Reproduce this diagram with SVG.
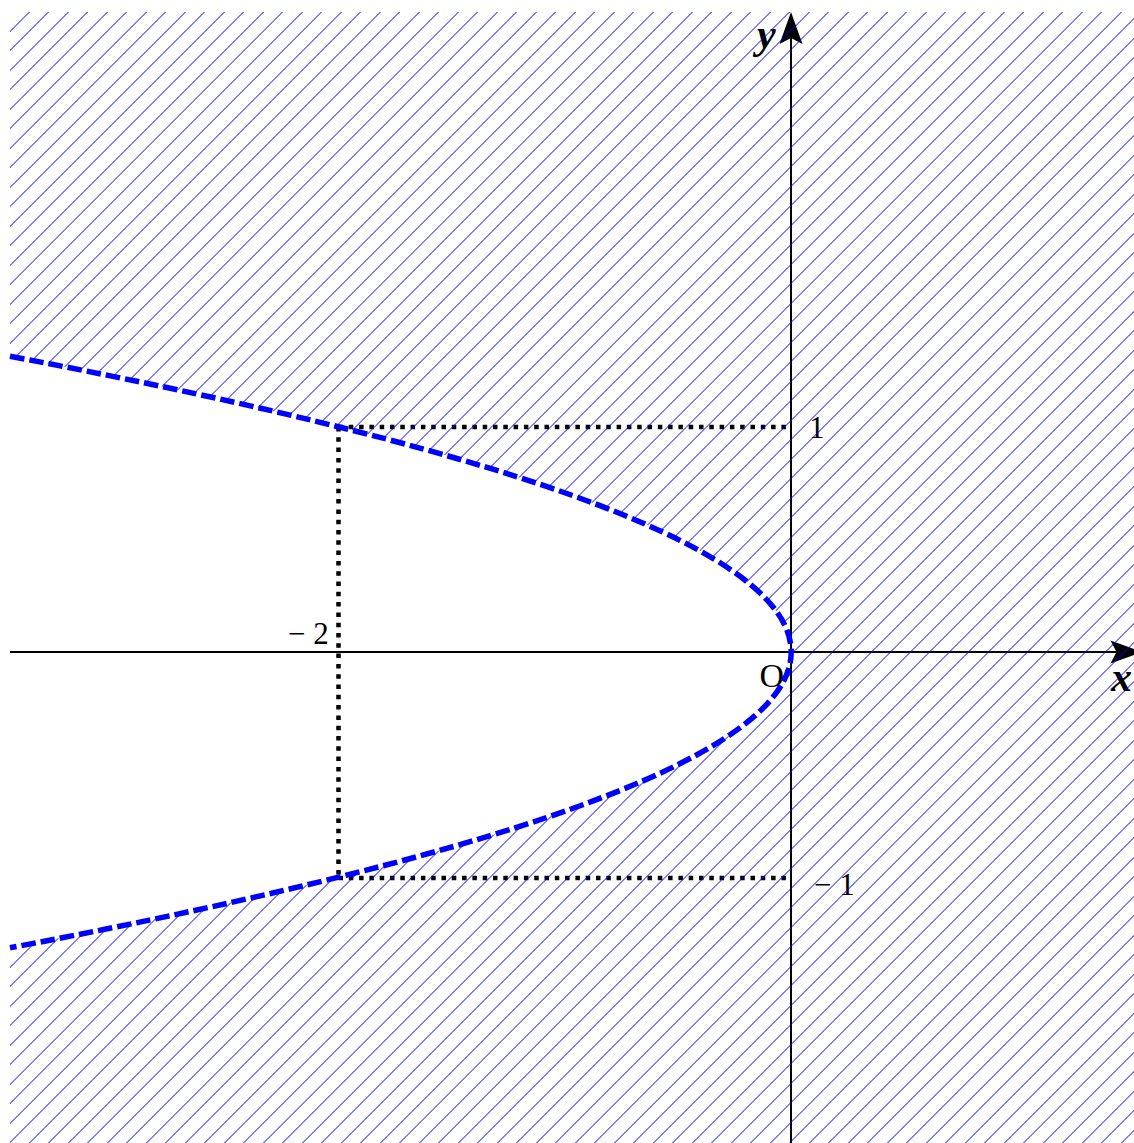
<svg xmlns="http://www.w3.org/2000/svg" width="1134" height="1143" viewBox="0 0 1134 1143">
<style>
.axis{stroke:#000;stroke-width:2;fill:none}
.arrow{fill:#000;stroke:none}
.dot{stroke:#000;stroke-width:4.5;stroke-dasharray:4.5 5.8;fill:none}
.hatch{stroke:#0000ff;stroke-width:1;fill:none}
.curve{stroke:#0000ff;stroke-width:5.5;stroke-dasharray:14.5 5;fill:none}
.num{font-family:"Liberation Serif","Times New Roman",serif;font-size:31px;fill:#000}
.var{font-family:"Liberation Serif","Times New Roman",serif;font-size:42px;font-weight:bold;font-style:italic;fill:#000}
</style>
<defs>
<clipPath id="region">
<path clip-rule="evenodd" d="M10 12H1134V1143H10Z M10 356.2Q1572.4 652 10 947.8Z"/>
</clipPath>
</defs>
<rect width="1134" height="1143" fill="#fff"/>
<g id="axes">
<path class="axis" d="M10 652H1120 M791 1143V30"/>
<path class="arrow" d="M791 12L802.5 44L791 38L779.5 44Z"/>
<path class="arrow" d="M1142 652L1110.5 640.5L1116.5 652L1110.5 663.5Z"/>
</g>
<g id="guides">
<path class="dot" d="M338.5 427H791 M338.5 878H791 M338.5 427V878"/>
</g>
<g id="labels">
<text class="var" x="757" y="48">y</text>
<text class="var" x="1111" y="690.5">x</text>
<text class="num" x="759.5" y="686.5" style="font-size:34px">O</text>
<text class="num" x="809" y="438">1</text>
<text class="num" x="814" y="895">− 1</text>
<text class="num" x="288" y="643.5">− 2</text>
</g>
<g id="hatch" clip-path="url(#region)">
<path class="hatch" d="M-1178.5 1200l1300-1300
m-1280 1300l1300-1300m-1281 1300l1300-1300m-1280 1300l1300-1300m-1281 1300l1300-1300m-1280 1300l1300-1300m-1281 1300l1300-1300
m-1280 1300l1300-1300m-1281 1300l1300-1300m-1280 1300l1300-1300m-1281 1300l1300-1300m-1280 1300l1300-1300m-1281 1300l1300-1300
m-1280 1300l1300-1300m-1281 1300l1300-1300m-1280 1300l1300-1300m-1281 1300l1300-1300m-1280 1300l1300-1300m-1281 1300l1300-1300
m-1280 1300l1300-1300m-1281 1300l1300-1300m-1280 1300l1300-1300m-1281 1300l1300-1300m-1280 1300l1300-1300m-1281 1300l1300-1300
m-1280 1300l1300-1300m-1281 1300l1300-1300m-1280 1300l1300-1300m-1281 1300l1300-1300m-1280 1300l1300-1300m-1281 1300l1300-1300
m-1280 1300l1300-1300m-1281 1300l1300-1300m-1280 1300l1300-1300m-1281 1300l1300-1300m-1280 1300l1300-1300m-1281 1300l1300-1300
m-1280 1300l1300-1300m-1281 1300l1300-1300m-1280 1300l1300-1300m-1281 1300l1300-1300m-1280 1300l1300-1300m-1281 1300l1300-1300
m-1280 1300l1300-1300m-1281 1300l1300-1300m-1280 1300l1300-1300m-1281 1300l1300-1300m-1280 1300l1300-1300m-1281 1300l1300-1300
m-1280 1300l1300-1300m-1281 1300l1300-1300m-1280 1300l1300-1300m-1281 1300l1300-1300m-1280 1300l1300-1300m-1281 1300l1300-1300
m-1280 1300l1300-1300m-1281 1300l1300-1300m-1280 1300l1300-1300m-1281 1300l1300-1300m-1280 1300l1300-1300m-1281 1300l1300-1300
m-1280 1300l1300-1300m-1281 1300l1300-1300m-1280 1300l1300-1300m-1281 1300l1300-1300m-1280 1300l1300-1300m-1281 1300l1300-1300
m-1280 1300l1300-1300m-1281 1300l1300-1300m-1280 1300l1300-1300m-1281 1300l1300-1300m-1280 1300l1300-1300m-1281 1300l1300-1300
m-1280 1300l1300-1300m-1281 1300l1300-1300m-1280 1300l1300-1300m-1281 1300l1300-1300m-1280 1300l1300-1300m-1281 1300l1300-1300
m-1280 1300l1300-1300m-1281 1300l1300-1300m-1280 1300l1300-1300m-1281 1300l1300-1300m-1280 1300l1300-1300m-1281 1300l1300-1300
m-1280 1300l1300-1300m-1281 1300l1300-1300m-1280 1300l1300-1300m-1281 1300l1300-1300m-1280 1300l1300-1300m-1281 1300l1300-1300
m-1280 1300l1300-1300m-1281 1300l1300-1300m-1280 1300l1300-1300m-1281 1300l1300-1300m-1280 1300l1300-1300m-1281 1300l1300-1300
m-1280 1300l1300-1300m-1281 1300l1300-1300m-1280 1300l1300-1300m-1281 1300l1300-1300m-1280 1300l1300-1300m-1281 1300l1300-1300
m-1280 1300l1300-1300m-1281 1300l1300-1300m-1280 1300l1300-1300m-1281 1300l1300-1300m-1280 1300l1300-1300m-1281 1300l1300-1300
m-1280 1300l1300-1300m-1281 1300l1300-1300m-1280 1300l1300-1300m-1281 1300l1300-1300m-1280 1300l1300-1300m-1281 1300l1300-1300
m-1280 1300l1300-1300"/>
</g>
<g id="parabola">
<path class="curve" d="M10 356.2Q1572.4 652 10 947.8"/>
</g>
</svg>
